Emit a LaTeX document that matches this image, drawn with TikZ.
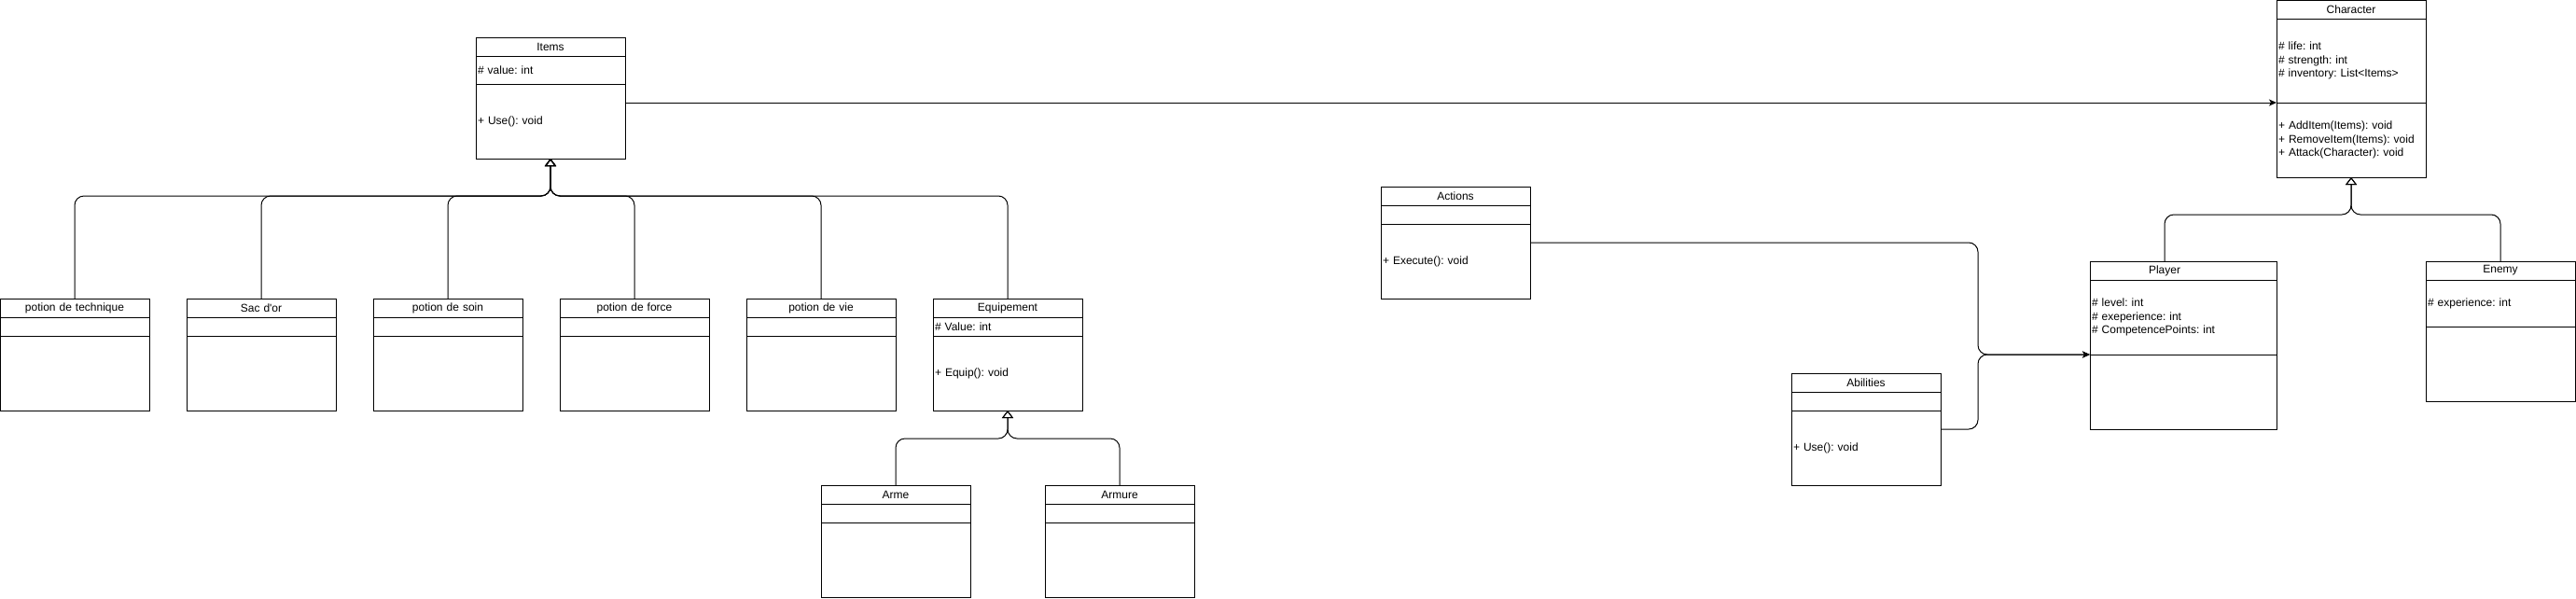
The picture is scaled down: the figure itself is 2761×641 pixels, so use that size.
\documentclass[tikz,border=0pt]{standalone}
\usepackage{fontspec}
\setmainfont{Liberation Sans}
\frenchspacing
\usetikzlibrary{arrows.meta,calc}
\newcommand\umlclass[8]{%
  \node[hdr, minimum width=#3, text width=\dimexpr#3-4pt\relax] (#1) at (#2) {#6};
  \node[sec, minimum width=#3, text width=\dimexpr#3-4pt\relax, minimum height=#4] (#1a) at (#1.south west) {#7};
  \node[sec, minimum width=#3, text width=\dimexpr#3-4pt\relax, minimum height=#5] (#1m) at (#1a.south west) {#8};
}
\begin{document}
\begin{tikzpicture}[x=1pt,y=-1pt,
  font=\fontsize{12}{14.4}\selectfont\frenchspacing,
  hdr/.style={draw, line width=1pt, outer sep=0pt, anchor=north west, inner xsep=2pt, inner ysep=0pt, minimum height=20pt, align=center},
  sec/.style={draw, line width=1pt, outer sep=0pt, anchor=north west, inner xsep=2pt, inner ysep=0pt, align=left},
  gen/.style={draw, line width=1pt, rounded corners=10pt, -{Triangle[open, length=8pt, width=12pt]}},
  assoc/.style={draw, line width=1pt, rounded corners=10pt, -{Stealth[length=8pt, width=7pt, inset=2pt]}},
  ]
\useasboundingbox (0,0) rectangle (2761,641);

\umlclass{items}{510,40}{160pt}{30pt}{80pt}{Items}{\# value: int}{+ Use(): void}
\umlclass{char}{2440,0}{160pt}{90pt}{80pt}{Character}{\# life: int\\\# strength: int\\\# inventory: List<Items>}{+ AddItem(Items): void\\+ RemoveItem(Items): void\\+ Attack(Character): void}
\umlclass{ptech}{0,320}{160pt}{20pt}{80pt}{potion de technique}{}{}
\umlclass{sac}{200,320}{160pt}{20pt}{80pt}{Sac d\textquotesingle{}or}{}{}
\umlclass{psoin}{400,320}{160pt}{20pt}{80pt}{potion de soin}{}{}
\umlclass{pforce}{600,320}{160pt}{20pt}{80pt}{potion de force}{}{}
\umlclass{pvie}{800,320}{160pt}{20pt}{80pt}{potion de vie}{}{}
\umlclass{equip}{1000,320}{160pt}{20pt}{80pt}{Equipement}{\# Value: int}{+ Equip(): void}
\umlclass{arme}{880,520}{160pt}{20pt}{80pt}{Arme}{}{}
\umlclass{armure}{1120,520}{160pt}{20pt}{80pt}{Armure}{}{}
\umlclass{actions}{1480,200}{160pt}{20pt}{80pt}{Actions}{}{+ Execute(): void}
\umlclass{abil}{1920,400}{160pt}{20pt}{80pt}{Abilities}{}{+ Use(): void}
\umlclass{player}{2240,280}{200pt}{80pt}{80pt}{}{\# level: int\\\# exeperience: int\\\# CompetencePoints: int}{}
\node[inner sep=0pt] (playert) at ($(player.center)+(-20,0)$) {Player};
\umlclass{enemy}{2600,280}{160pt}{50pt}{80pt}{Enemy}{\# experience: int}{}

% association Items -> Character
\draw[assoc] (itemsm.east |- charm.north west) -- (charm.north west);

% generalizations to Items
\foreach \c in {ptech,sac,psoin,pforce,pvie,equip}
  \draw[gen] (\c.north) |- ($(itemsm.south)+(0,40)$) -- (itemsm.south);

% generalizations to Equipement
\foreach \c in {arme,armure}
  \draw[gen] (\c.north) |- ($(equipm.south)+(0,30)$) -- (equipm.south);

% generalizations to Character
\draw[gen] (playert |- player.north) |- ($(charm.south)+(0,40)$) -- (charm.south);
\draw[gen] (enemy.north) |- ($(charm.south)+(0,40)$) -- (charm.south);

% Actions / Abilities -> Player
\coordinate (merge) at ($(playerm.north west)+(-120,0)$);
\draw[assoc] ($(actions.north east)!.5!(actionsm.south east)$) -| (merge) -- (playerm.north west);
\draw[assoc] ($(abil.north east)!.5!(abilm.south east)$) -| (merge) -- (playerm.north west);
\end{tikzpicture}
\end{document}
